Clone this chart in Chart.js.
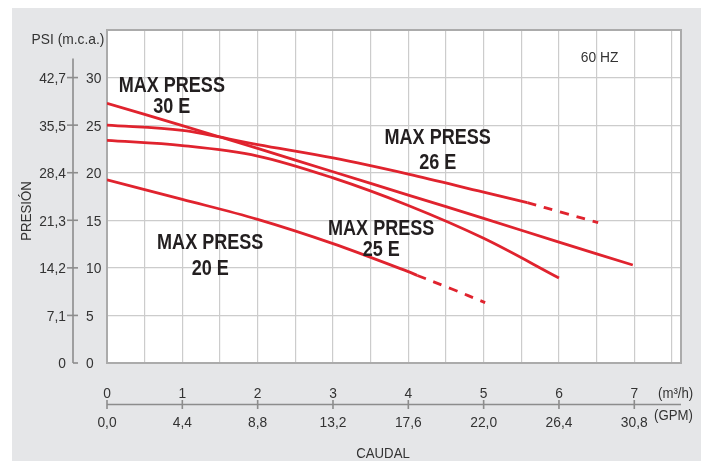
<!DOCTYPE html>
<html>
<head>
<meta charset="utf-8">
<script src="https://cdn.jsdelivr.net/npm/chart.js@4/dist/chart.umd.min.js"></script>
<style>
html,body{margin:0;padding:0;background:#fff;}
#wrap{width:708px;height:461px;position:relative;}
canvas{display:block;}
</style>
</head>
<body>
<div id="wrap"><canvas id="c" width="708" height="461"></canvas></div>
<script>
// ---------- DATA ----------
// grid lines (m3/h, m.c.a.)
const flowGrid = [0,0.5,1,1.5,2,2.5,3,3.5,4,4.5,5,5.5,6,6.5,7,7.5];
const headGrid = [0,5,10,15,20,25,30,35];
// left axis tick labels
const mcaTicks = [0,5,10,15,20,25,30];
const psiLabels = ['0','7,1','14,2','21,3','28,4','35,5','42,7'];
// bottom axis tick labels
const m3hTicks = [0,1,2,3,4,5,6,7];
const gpmLabels = ['0,0','4,4','8,8','13,2','17,6','22,0','26,4','30,8'];

// curves: flow (m3/h) and head (m.c.a.)
const flow30E = [0,1,2,3,4,5,6,6.98];
const head30E = [27.3,24.95,22.55,20.1,17.65,15.2,12.7,10.3];

const flow26E = [0,1,2,3,4,5,5.58];
const head26E = [25.0,24.45,22.95,21.55,19.85,17.95,16.85];
const flow26Edash = [5.58,6.05,6.52];
const head26Edash = [16.85,15.8,14.75];

const flow25E = [0,1,2,3,4,5,6.0];
const head25E = [23.4,22.85,21.75,19.45,16.55,13.1,8.93];

const flow20E = [0,1,2,3,4,4.12];
const head20E = [19.25,17.2,15.1,12.55,9.6,9.2];
const flow20Edash = [4.12,4.57,5.02];
const head20Edash = [9.2,7.8,6.35];

const curveNames = ['MAX PRESS 30 E','MAX PRESS 26 E','MAX PRESS 25 E','MAX PRESS 20 E'];
const labelLines = [['MAX PRESS','30 E'],['MAX PRESS','26 E'],['MAX PRESS','25 E'],['MAX PRESS','20 E']];

// ---------- helpers ----------
const pts = (xs, ys) => xs.map((x, i) => ({x: x, y: ys[i]}));
const RED = '#e0232e';
const FONT = "'Liberation Sans','Arimo',Arial,sans-serif";

// label placement (data coordinates of text centres)
const labelPos = [
  [[0.86,29.3],[0.86,27.1]],
  [[4.39,23.85],[4.39,21.25]],
  [[3.64,14.26],[3.64,12.12]],
  [[1.37,12.86],[1.37,10.12]]
];

function lineDs(label, data, dashed) {
  return {
    label: label,
    data: data,
    showLine: true,
    borderColor: RED,
    backgroundColor: RED,
    borderWidth: 2.8,
    pointRadius: 0,
    pointHoverRadius: 0,
    tension: 0.35,
    borderDash: dashed ? [9,8] : [],
    borderCapStyle: 'butt',
    fill: false
  };
}

const bgPlugin = {
  id: 'bg',
  beforeDraw(chart) {
    const ctx = chart.ctx, ca = chart.chartArea;
    ctx.save();
    ctx.fillStyle = '#ffffff';
    ctx.fillRect(0, 0, chart.width, chart.height);
    ctx.fillStyle = '#e5e6e8';
    ctx.fillRect(12, 8, 689, chart.height - 8);
    ctx.fillStyle = '#ffffff';
    ctx.fillRect(ca.left, ca.top, ca.right - ca.left, ca.bottom - ca.top);
    ctx.restore();
  },
  beforeDatasetsDraw(chart) {
    const ctx = chart.ctx, ca = chart.chartArea;
    ctx.save();
    ctx.strokeStyle = '#ababab';
    ctx.lineWidth = 2;
    ctx.strokeRect(ca.left, ca.top, ca.right - ca.left, ca.bottom - ca.top);
    ctx.restore();
  }
};

// condensed text: horizontally compressed, vertically centred on cap height
function capText(ctx, txt, x, yc, size, align, sx) {
  ctx.save();
  ctx.translate(x, yc + size * 0.358);
  ctx.scale(sx || 0.9, 1);
  ctx.textAlign = align || 'center';
  ctx.textBaseline = 'alphabetic';
  ctx.fillText(txt, 0, 0);
  ctx.restore();
}

const axesPlugin = {
  id: 'axes2',
  afterDraw(chart) {
    const ctx = chart.ctx, ca = chart.chartArea;
    const xs = chart.scales.x, ys = chart.scales.y;
    ctx.save();
    // ---- left double axis ----
    const ax = ca.left - 34;
    ctx.strokeStyle = '#8c8c8c';
    ctx.lineWidth = 1.6;
    ctx.beginPath();
    ctx.moveTo(ax, ys.getPixelForValue(32));
    ctx.lineTo(ax, ys.getPixelForValue(0));
    ctx.stroke();
    ctx.fillStyle = '#333333';
    ctx.font = '15px ' + FONT;
    mcaTicks.forEach((v, i) => {
      const py = ys.getPixelForValue(v);
      ctx.beginPath();
      ctx.moveTo(v === 0 ? ax : ax - 6, py);
      ctx.lineTo(ax + 5, py);
      ctx.stroke();
      capText(ctx, String(v), ax + 13, py, 15, 'left', 0.92);
      capText(ctx, psiLabels[i], ax - 7, py, 15, 'right', 0.92);
    });
    capText(ctx, 'PSI (m.c.a.)', ax - 5, ca.top + 9, 15, 'center', 0.92);
    // rotated title
    ctx.save();
    ctx.translate(27, 211);
    ctx.rotate(-Math.PI / 2);
    ctx.scale(0.88, 1);
    ctx.textAlign = 'center';
    ctx.textBaseline = 'middle';
    ctx.fillText('PRESIÓN', 0, 0);
    ctx.restore();

    // ---- bottom double axis ----
    const by = ca.bottom + 41.5;
    ctx.beginPath();
    ctx.moveTo(xs.getPixelForValue(0), by);
    ctx.lineTo(ca.right, by);
    ctx.stroke();
    m3hTicks.forEach((v, i) => {
      const px = xs.getPixelForValue(v);
      ctx.beginPath();
      ctx.moveTo(px, by - 4.5);
      ctx.lineTo(px, by + 4.5);
      ctx.stroke();
      capText(ctx, String(v), px, by - 12, 15, 'center', 0.92);
      capText(ctx, gpmLabels[i], px, by + 17, 15, 'center', 0.92);
    });
    capText(ctx, '(m³/h)', ca.right - 23, by - 11.5, 15, 'left', 0.88);
    capText(ctx, '(GPM)', ca.right - 27, by + 10.5, 15, 'left', 0.88);
    capText(ctx, 'CAUDAL', (ca.left + ca.right) / 2 - 11, by + 48, 15, 'center', 0.88);

    // ---- 60 HZ ----
    capText(ctx, '60 HZ', xs.getPixelForValue(6.54), ys.getPixelForValue(32.2), 15, 'center', 0.92);

    // ---- curve labels ----
    ctx.fillStyle = '#231f20';
    ctx.font = 'bold 22px ' + FONT;
    labelLines.forEach((lines, i) => {
      lines.forEach((t, j) => {
        const p = labelPos[i][j];
        capText(ctx, t, xs.getPixelForValue(p[0]), ys.getPixelForValue(p[1]), 22, 'center', 0.82);
      });
    });
    ctx.restore();
  }
};

new Chart(document.getElementById('c'), {
  type: 'scatter',
  data: {
    datasets: [
      lineDs(curveNames[0], pts(flow30E, head30E), false),
      lineDs(curveNames[1], pts(flow26E, head26E), false),
      lineDs(curveNames[1] + ' (ext.)', pts(flow26Edash, head26Edash), true),
      lineDs(curveNames[2], pts(flow25E, head25E), false),
      lineDs(curveNames[3], pts(flow20E, head20E), false),
      lineDs(curveNames[3] + ' (ext.)', pts(flow20Edash, head20Edash), true)
    ]
  },
  options: {
    responsive: false,
    animation: false,
    devicePixelRatio: 1,
    layout: { padding: { left: 107, top: 30, right: 27, bottom: 98 } },
    plugins: { legend: { display: false }, tooltip: { enabled: false }, title: { display: false } },
    events: [],
    scales: {
      x: {
        type: 'linear', min: 0, max: 7.62,
        afterBuildTicks: s => { s.ticks = flowGrid.map(v => ({ value: v })); },
        ticks: { display: false },
        grid: { color: '#cccccc', lineWidth: 1.2, drawTicks: false },
        border: { display: false }
      },
      y: {
        type: 'linear', min: 0, max: 35,
        afterBuildTicks: s => { s.ticks = headGrid.map(v => ({ value: v })); },
        ticks: { display: false },
        grid: { color: '#cccccc', lineWidth: 1.2, drawTicks: false },
        border: { display: false }
      }
    }
  },
  plugins: [bgPlugin, axesPlugin]
});
</script>
</body>
</html>
